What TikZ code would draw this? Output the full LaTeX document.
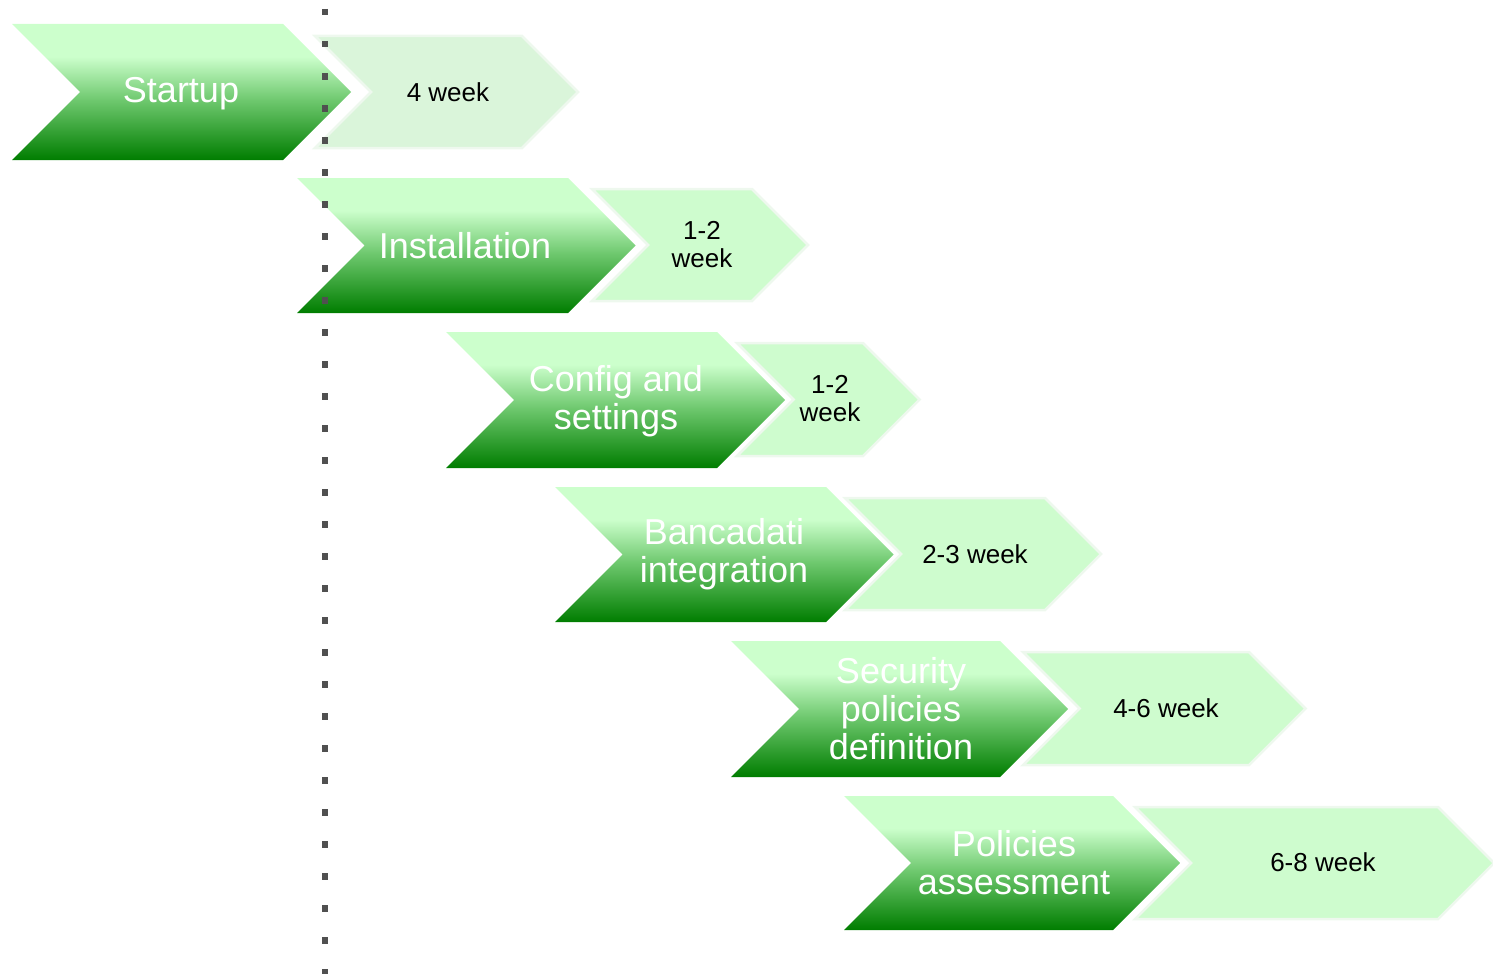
\documentclass[tikz,border=0pt]{standalone}
\usepackage{fontspec}
\setmainfont{Liberation Sans}
\definecolor{chevdark}{RGB}{0,125,0}
\definecolor{chevmid}{RGB}{110,200,110}
\definecolor{chevlight}{RGB}{204,255,204}
\definecolor{stepfill}{RGB}{206,252,206}
\definecolor{firstfill}{RGB}{218,245,218}
\definecolor{stepedge}{RGB}{238,248,238}
\definecolor{dotgray}{RGB}{80,80,80}
\pgfdeclareverticalshading{chevshade}{100bp}{color(0bp)=(chevdark); color(25bp)=(chevdark); color(47bp)=(chevmid); color(63bp)=(chevlight); color(100bp)=(chevlight)}
% chevron: style, left x, top y, body width, height
\newcommand{\chevron}[5]{%
  \path[#1] (#2,#3) -- ++(#4,0) -- ++({#5/2},{#5/2}) -- ++({-#5/2},{#5/2})
    -- ++(-#4,0) -- ++({#5/2},{-#5/2}) -- cycle;}
\tikzset{
  phase/.style={shading=chevshade},
  duration/.style={fill=stepfill, draw=stepedge, line width=2.5pt, line join=miter},
  phasetext/.style={text=white, align=center, font=\fontsize{36}{38}\selectfont, inner sep=0pt},
  durtext/.style={text=black, align=center, font=\fontsize{26}{28}\selectfont, inner sep=0pt},
  dots/.style={draw=dotgray, line width=6.5pt, dash pattern=on 6.5pt off 25.5pt}
}
\begin{document}
\begin{tikzpicture}[x=1pt, y=-1pt]
\useasboundingbox (0,0) rectangle (1493,974);
% duration arrows
\chevron{duration, fill=firstfill}{315}{36}{207}{112}
\chevron{duration}{592}{189}{160}{112}
\chevron{duration}{737}{343}{126}{113}
\chevron{duration}{845}{498}{200}{112}
\chevron{duration}{1023}{652}{226}{113}
\chevron{duration}{1135}{807}{303}{112}
% phase arrows
\chevron{phase}{12}{24}{271}{136}
\chevron{phase}{297}{178}{271}{135}
\chevron{phase}{446}{332}{271}{136}
\chevron{phase}{555}{487}{271}{135}
\chevron{phase}{731}{641}{269}{136}
\chevron{phase}{844}{796}{269}{134}
% milestone line
\coordinate (lineTop) at (325,9);
\coordinate (lineBottom) at (325,974);
\draw[dots] (lineTop) -- (lineBottom);
% labels
\node[phasetext] (p1) at (181,94) {Startup};
\node[phasetext] (p2) at (465,246) {Installation};
\node[phasetext] (p3) at (616,401) {Config and\\settings};
\node[phasetext] (p4) at (724,554) {Bancadati\\integration};
\node[phasetext] (p5) at (901,709) {Security\\policies\\definition};
\node[phasetext] (p6) at (1014,863) {Policies\\assessment};
\node[durtext] (d1) at (448,92) {4 week};
\node[durtext] (d2) at (702,245) {1-2\\week};
\node[durtext] (d3) at (830,399) {1-2\\week};
\node[durtext] (d4) at (975,554) {2-3 week};
\node[durtext] (d5) at (1166,708) {4-6 week};
\node[durtext] (d6) at (1323,862) {6-8 week};
\end{tikzpicture}
\end{document}
